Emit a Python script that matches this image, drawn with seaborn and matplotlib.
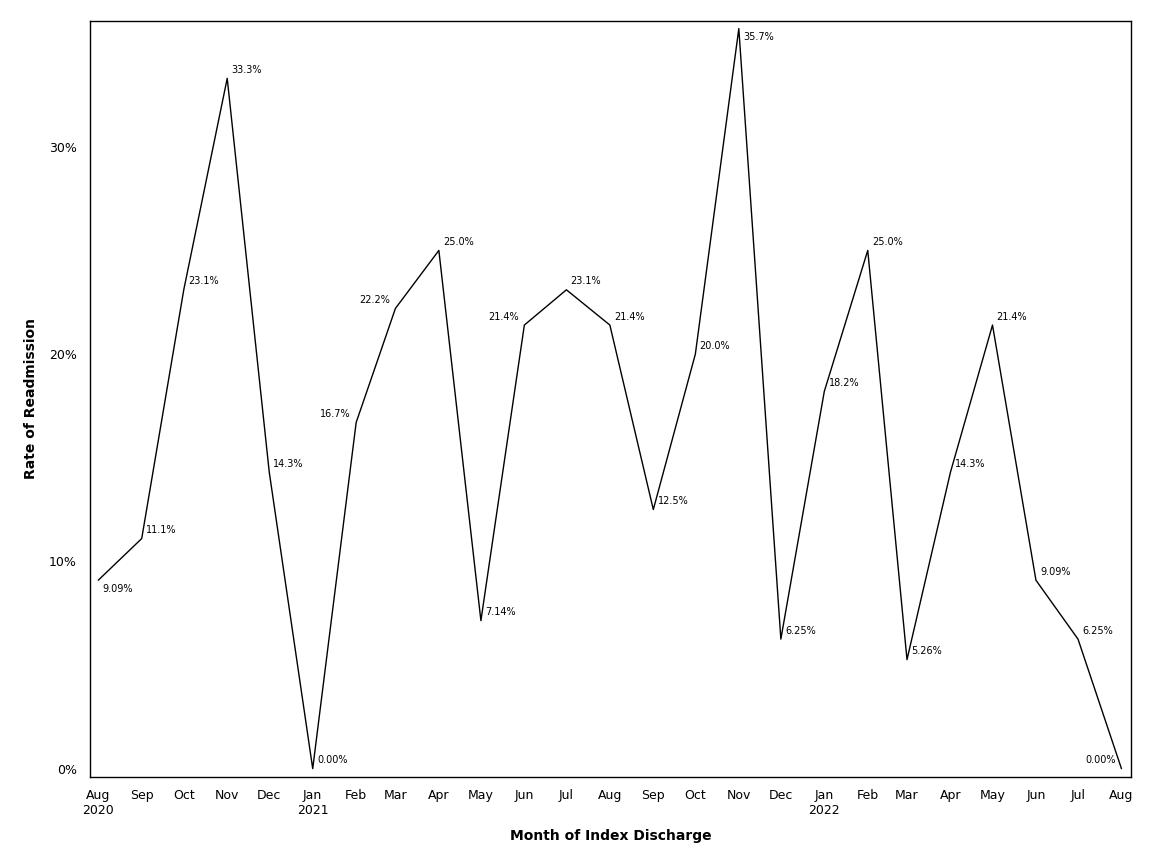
import pandas as pd
import seaborn as sns
import matplotlib.pyplot as plt
from matplotlib.ticker import FuncFormatter

months = pd.date_range('2020-08-01', '2022-08-01', freq='MS')
rate = [9.09, 11.1, 23.1, 33.3, 14.3, 0.00, 16.7, 22.2, 25.0, 7.14, 21.4, 23.1, 21.4,
        12.5, 20.0, 35.7, 6.25, 18.2, 25.0, 5.26, 14.3, 21.4, 9.09, 6.25, 0.00]
rate_labels = ['9.09%', '11.1%', '23.1%', '33.3%', '14.3%', '0.00%', '16.7%', '22.2%', '25.0%',
               '7.14%', '21.4%', '23.1%', '21.4%', '12.5%', '20.0%', '35.7%', '6.25%', '18.2%',
               '25.0%', '5.26%', '14.3%', '21.4%', '9.09%', '6.25%', '0.00%']

df = pd.DataFrame({'month': months, 'rate': rate})

# where the label sits relative to its point
left_side = {6, 7, 10, 24}
below = {0, 15}

sns.set_style('white')
plt.rcParams['font.family'] = ['DejaVu Sans']
plt.rcParams['text.color'] = 'black'
plt.rcParams['axes.labelcolor'] = 'black'

fig = plt.figure(figsize=(11.52, 8.64), dpi=100)
ax = fig.add_axes([0.078, 0.101, 0.904, 0.875])
sns.lineplot(data=df, x='month', y='rate', ax=ax, color='black', linewidth=1)

for i, (m, r, lab) in enumerate(zip(months, rate, rate_labels)):
    dy = -6 if i in below else 6
    if i in left_side:
        ax.annotate(lab, (m, r), xytext=(-4, dy), textcoords='offset points',
                    ha='right', va='center', fontsize=7, color='black')
    else:
        ax.annotate(lab, (m, r), xytext=(3, dy), textcoords='offset points',
                    ha='left', va='center', fontsize=7, color='black')

ax.set_xlim(pd.Timestamp('2020-07-26'), pd.Timestamp('2022-08-08'))
ax.set_ylim(-0.39, 36.08)
ax.set_yticks([0, 10, 20, 30])
ax.yaxis.set_major_formatter(FuncFormatter(lambda v, p: f'{v:.0f}%'))

ax.set_xticks(months)
ax.set_xticklabels([m.strftime('%b') + ('\n' + m.strftime('%Y') if (m.month == 1 or m == months[0]) else '')
                    for m in months])
ax.tick_params(axis='both', labelsize=9, length=6, width=1, direction='out', colors='black')
ax.tick_params(axis='x', length=5)
for s in ax.spines.values():
    s.set_color('black')
    s.set_linewidth(1)

ax.set_xlabel('Month of Index Discharge', fontsize=10, fontweight='bold', labelpad=9)
ax.set_ylabel('Rate of Readmission', fontsize=10, fontweight='bold', labelpad=8)

fig.savefig('out.png', dpi=100)
